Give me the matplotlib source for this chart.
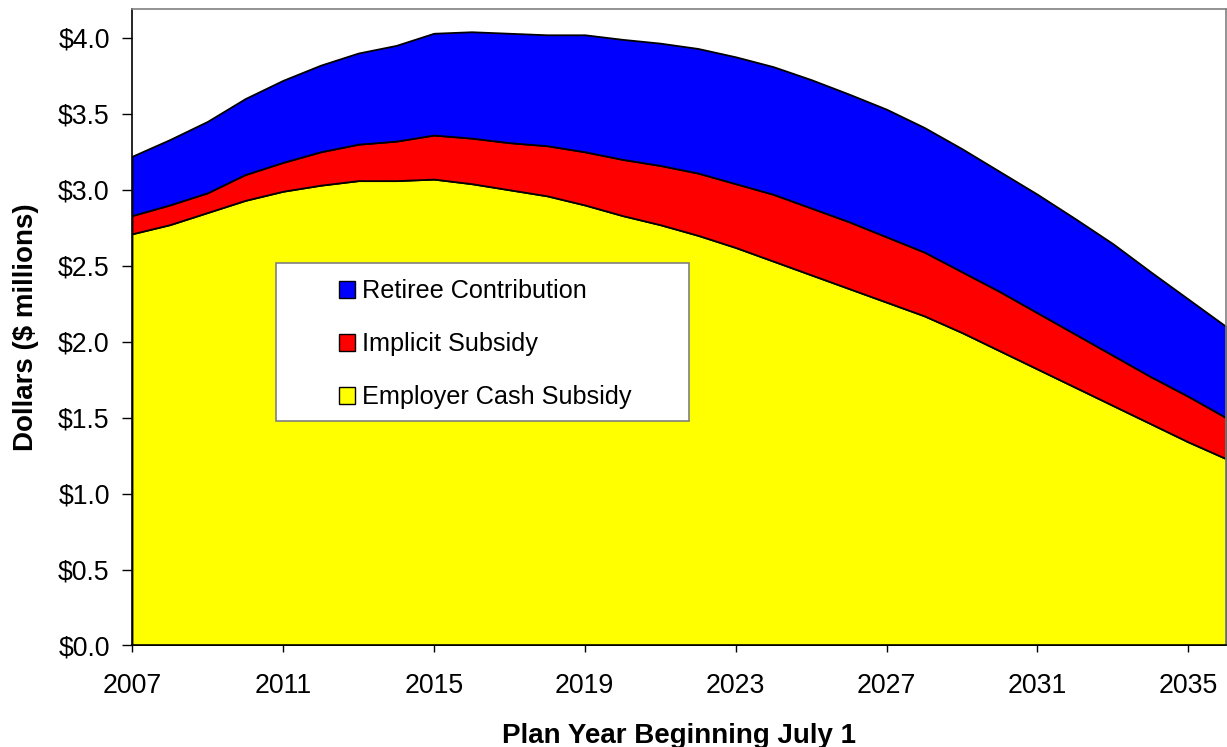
import matplotlib
matplotlib.use("Agg")
import matplotlib.pyplot as plt
import numpy as np
from matplotlib.patches import Patch, Rectangle
from matplotlib.ticker import FuncFormatter

plt.rcParams["font.family"] = ["Liberation Sans", "DejaVu Sans"]

# plan years beginning July 1
years = list(range(2007, 2037))

# $ millions
employer_cash = [2.71, 2.77, 2.85, 2.93, 2.99, 3.03, 3.06, 3.06, 3.07, 3.04,
                 3.00, 2.96, 2.90, 2.83, 2.77, 2.70, 2.62, 2.53, 2.44, 2.35,
                 2.26, 2.17, 2.06, 1.94, 1.82, 1.70, 1.58, 1.46, 1.34, 1.23]
implicit = [0.12, 0.13, 0.13, 0.17, 0.19, 0.22, 0.24, 0.26, 0.29, 0.30,
            0.31, 0.33, 0.35, 0.37, 0.39, 0.41, 0.42, 0.44, 0.44, 0.44,
            0.43, 0.42, 0.40, 0.39, 0.37, 0.35, 0.33, 0.31, 0.30, 0.27]
retiree = [0.39, 0.43, 0.47, 0.50, 0.54, 0.57, 0.60, 0.63, 0.67, 0.70,
           0.72, 0.73, 0.77, 0.79, 0.805, 0.82, 0.835, 0.84, 0.845, 0.84,
           0.84, 0.82, 0.81, 0.79, 0.78, 0.76, 0.735, 0.69, 0.64, 0.60]

labels = ["Employer Cash Subsidy", "Implicit Subsidy", "Retiree Contribution"]
colors = ["#ffff00", "#ff0000", "#0000ff"]

fig = plt.figure(figsize=(12.27, 7.47), dpi=100)
ax = fig.add_axes([0.1076, 0.1359, 0.8916, 0.8521])

ax.stackplot(years, employer_cash, implicit, retiree, colors=colors,
             edgecolor="black", linewidth=1.3)

ax.set_xlim(2007, 2036)
ax.set_ylim(0, 4.19)
ax.set_xticks(range(2007, 2037, 4))
ax.set_yticks(np.arange(0, 4.01, 0.5))
ax.yaxis.set_major_formatter(FuncFormatter(lambda v, _: f"${v:.1f}"))
ax.tick_params(axis="both", labelsize=19.2, direction="out", color="black")
ax.tick_params(axis="y", length=7, width=1, pad=9)
ax.tick_params(axis="x", length=5, width=1, pad=15)

for side in ("top", "right"):
    ax.spines[side].set_color("#808080")
    ax.spines[side].set_linewidth(1.2)
for side in ("left", "bottom"):
    ax.spines[side].set_color("black")
    ax.spines[side].set_linewidth(1.2)

ax.set_xlabel("Plan Year Beginning July 1", fontsize=20, fontweight="bold",
              labelpad=17)
ax.set_ylabel("Dollars ($ millions)", fontsize=20, fontweight="bold",
              labelpad=14)

# legend box drawn as its own frame, entries placed inside
ax.add_patch(Rectangle((0.1315, 0.353), 0.378, 0.248, transform=ax.transAxes,
                       facecolor="white", edgecolor="#808080", lw=1.2,
                       zorder=4))
handles = [Patch(facecolor=c, edgecolor="black", lw=1.0)
           for c in colors[::-1]]
ax.legend(handles, labels[::-1], loc="center left",
          bbox_to_anchor=(0.189, 0.473), frameon=False, fontsize=18.2,
          borderpad=0, borderaxespad=0, handlelength=0.66, handleheight=0.66,
          handletextpad=0.25, labelspacing=1.15).set_zorder(5)

fig.savefig("out.png", dpi=100)
